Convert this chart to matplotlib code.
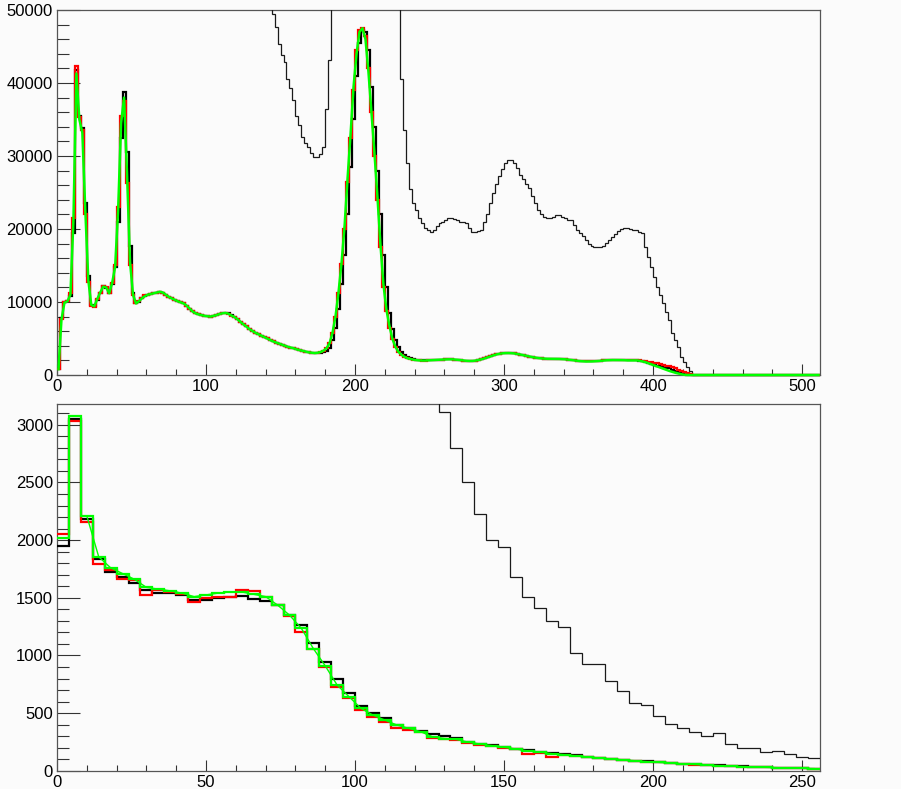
import matplotlib.pyplot as plt
import numpy as np
from matplotlib.patches import Rectangle
from matplotlib.ticker import MultipleLocator

plt.rcParams['font.family'] = ['Liberation Sans', 'DejaVu Sans']

# ---- upper pad: 256 bins of width 2 on [0, 512], counts in thousands ----
top_edges = np.arange(0, 514, 2)

top_black_k = [
    0.8, 7.8, 10.0, 10.2, 10.8, 19.5, 41.8, 35.5, 33.8, 23.5, 13.5, 9.6, 9.4, 10.3, 11.3, 12.2,
    11.9, 11.3, 12.4, 14.8, 21.0, 32.5, 38.8, 30.5, 17.7, 11.3, 9.8, 10.0, 10.5, 10.8, 11.0, 11.1,
    11.2, 11.3, 11.4, 11.3, 11.0, 10.7, 10.5, 10.3, 10.1, 9.95, 9.8, 9.5, 9.1, 8.7, 8.45, 8.3,
    8.2, 8.1, 8.05, 8.0, 8.1, 8.2, 8.35, 8.45, 8.55, 8.45, 8.2, 7.95, 7.65, 7.3, 6.95, 6.65,
    6.3, 6.05, 5.8, 5.6, 5.4, 5.2, 5.0, 4.8, 4.6, 4.45, 4.3, 4.15, 4.0, 3.85, 3.75, 3.65,
    3.5, 3.4, 3.3, 3.2, 3.1, 3.05, 3.0, 3.0, 3.05, 3.15, 3.3, 3.7, 4.8, 6.5, 9.0, 12.5,
    16.5, 22.0, 28.5, 35.0, 41.0, 45.5, 47.3, 47.0, 44.5, 39.5, 34.0, 28.0, 22.0, 16.5, 12.0, 8.5,
    6.3, 4.8, 3.8, 3.2, 2.8, 2.5, 2.3, 2.2, 2.1, 2.05, 2.0, 2.0, 2.0, 2.02, 2.05, 2.08,
    2.1, 2.12, 2.14, 2.15, 2.15, 2.12, 2.08, 2.03, 1.98, 1.94, 1.92, 1.93, 1.98, 2.06, 2.16, 2.28,
    2.42, 2.56, 2.7, 2.82, 2.91, 2.97, 3.0, 3.01, 2.99, 2.95, 2.88, 2.8, 2.71, 2.62, 2.53, 2.45,
    2.38, 2.32, 2.27, 2.24, 2.22, 2.21, 2.21, 2.21, 2.2, 2.18, 2.15, 2.11, 2.06, 2.0, 1.95, 1.9,
    1.87, 1.85, 1.85, 1.86, 1.88, 1.91, 1.95, 1.99, 2.02, 2.04, 2.05, 2.05, 2.05, 2.04, 2.03, 2.0,
    2.0, 2.0, 2.0, 1.95, 1.85, 1.75, 1.65, 1.5, 1.4, 1.3, 1.2, 1.1, 1.0, 0.9, 0.75, 0.6,
    0.45, 0.3, 0.15, 0.05, 0, 0, 0, 0, 0, 0, 0, 0, 0, 0, 0, 0,
    0, 0, 0, 0, 0, 0, 0, 0, 0, 0, 0, 0, 0, 0, 0, 0,
    0, 0, 0, 0, 0, 0, 0, 0, 0, 0, 0, 0, 0, 0, 0, 0,
]

top_red_k = [
    0.8, 7.7, 10.0, 10.1, 11.2, 21.5, 42.3, 35.4, 33.5, 22.0, 12.8, 9.5, 9.3, 10.4, 11.3, 12.2,
    12.0, 11.2, 12.6, 15.0, 23.0, 35.5, 37.5, 26.3, 15.0, 11.0, 9.8, 10.1, 10.6, 10.9, 11.0, 11.1,
    11.2, 11.3, 11.4, 11.3, 11.0, 10.7, 10.5, 10.3, 10.1, 9.95, 9.8, 9.5, 9.1, 8.7, 8.45, 8.3,
    8.2, 8.1, 8.05, 8.0, 8.1, 8.2, 8.35, 8.45, 8.5, 8.4, 8.15, 7.95, 7.65, 7.3, 6.95, 6.65,
    6.3, 6.05, 5.8, 5.6, 5.4, 5.2, 5.0, 4.8, 4.6, 4.45, 4.3, 4.15, 4.0, 3.85, 3.75, 3.65,
    3.5, 3.4, 3.3, 3.2, 3.1, 3.05, 3.0, 3.05, 3.15, 3.35, 3.7, 4.4, 5.8, 8.0, 11.2, 15.2,
    20.0, 26.5, 32.5, 39.0, 44.5, 47.3, 47.6, 46.5, 42.0, 36.0, 30.0, 24.0, 17.5, 12.0, 8.7, 6.5,
    4.9, 3.8, 3.1, 2.75, 2.5, 2.3, 2.2, 2.1, 2.05, 2.0, 1.98, 1.98, 2.0, 2.02, 2.05, 2.08,
    2.1, 2.12, 2.14, 2.15, 2.15, 2.12, 2.08, 2.03, 1.98, 1.94, 1.92, 1.93, 1.98, 2.06, 2.16, 2.28,
    2.42, 2.56, 2.7, 2.82, 2.91, 2.97, 3.0, 3.01, 2.99, 2.95, 2.88, 2.8, 2.71, 2.62, 2.53, 2.45,
    2.38, 2.32, 2.27, 2.24, 2.22, 2.21, 2.21, 2.21, 2.2, 2.18, 2.15, 2.11, 2.06, 2.0, 1.95, 1.9,
    1.87, 1.85, 1.85, 1.86, 1.88, 1.91, 1.95, 1.99, 2.02, 2.04, 2.05, 2.05, 2.05, 2.04, 2.03, 2.0,
    2.05, 2.05, 2.05, 2.0, 1.95, 1.9, 1.8, 1.75, 1.7, 1.6, 1.5, 1.4, 1.3, 1.2, 1.05, 0.9,
    0.75, 0.6, 0.45, 0.3, 0.15, 0.05, 0, 0, 0, 0, 0, 0, 0, 0, 0, 0,
    0, 0, 0, 0, 0, 0, 0, 0, 0, 0, 0, 0, 0, 0, 0, 0,
    0, 0, 0, 0, 0, 0, 0, 0, 0, 0, 0, 0, 0, 0, 0, 0,
]

top_green_k = [
    0.8, 7.6, 9.9, 10.1, 11.0, 21.0, 41.3, 35.0, 33.2, 22.5, 13.0, 9.6, 9.4, 10.4, 11.3, 12.1,
    12.0, 11.2, 12.6, 14.8, 22.5, 34.5, 38.0, 27.5, 15.5, 11.0, 9.8, 10.1, 10.5, 10.8, 11.0, 11.1,
    11.2, 11.3, 11.4, 11.3, 11.0, 10.7, 10.5, 10.3, 10.1, 9.95, 9.8, 9.5, 9.1, 8.7, 8.45, 8.3,
    8.2, 8.1, 8.05, 8.0, 8.1, 8.2, 8.35, 8.45, 8.5, 8.4, 8.15, 7.95, 7.65, 7.3, 6.95, 6.65,
    6.3, 6.05, 5.8, 5.6, 5.4, 5.2, 5.0, 4.8, 4.6, 4.45, 4.3, 4.15, 4.0, 3.85, 3.75, 3.65,
    3.5, 3.4, 3.3, 3.2, 3.1, 3.05, 3.0, 3.05, 3.15, 3.35, 3.7, 4.4, 5.9, 8.2, 11.5, 15.5,
    20.5, 27.0, 33.0, 39.5, 44.0, 47.0, 47.5, 46.0, 41.5, 36.0, 30.5, 24.5, 18.0, 12.5, 9.0, 6.8,
    5.0, 3.9, 3.2, 2.8, 2.5, 2.3, 2.2, 2.1, 2.05, 2.0, 1.98, 1.98, 2.0, 2.02, 2.05, 2.08,
    2.1, 2.12, 2.14, 2.15, 2.15, 2.12, 2.08, 2.03, 1.98, 1.94, 1.92, 1.93, 1.98, 2.06, 2.16, 2.28,
    2.42, 2.56, 2.7, 2.82, 2.91, 2.97, 3.0, 3.01, 2.99, 2.95, 2.88, 2.8, 2.71, 2.62, 2.53, 2.45,
    2.38, 2.32, 2.27, 2.24, 2.22, 2.21, 2.21, 2.21, 2.2, 2.18, 2.15, 2.11, 2.06, 2.0, 1.95, 1.9,
    1.87, 1.85, 1.85, 1.86, 1.88, 1.91, 1.95, 1.99, 2.02, 2.04, 2.05, 2.05, 2.05, 2.04, 2.03, 2.0,
    2.0, 2.0, 2.0, 1.95, 1.85, 1.75, 1.6, 1.45, 1.3, 1.15, 1.0, 0.85, 0.7, 0.55, 0.42, 0.3,
    0.2, 0.1, 0.03, 0, 0, 0, 0, 0, 0, 0, 0, 0, 0, 0, 0, 0,
    0, 0, 0, 0, 0, 0, 0, 0, 0, 0, 0, 0, 0, 0, 0, 0,
    0, 0, 0, 0, 0, 0, 0, 0, 0, 0, 0, 0, 0, 0, 0, 0,
]

# wide spectrum, runs far above the frame below ~145 and around the main peak
top_wide_k = [
    55, 120, 150, 160, 170, 260, 430, 380, 350, 260, 170, 130, 125, 130, 140, 150,
    148, 140, 155, 180, 250, 360, 390, 290, 180, 140, 125, 125, 128, 130, 131, 131,
    131, 131, 130, 128, 125, 122, 118, 115, 112, 109, 106, 102, 98, 94, 90, 87,
    85, 83, 82, 81, 81, 82, 83, 84, 84, 83, 81, 79, 76, 73, 70, 67,
    64, 62, 60, 58, 56, 54, 53, 52, 49.5, 47.7, 45.4, 43.9, 42.9, 40.5, 39.3, 37.7,
    35.5, 34.3, 32.6, 31.8, 31.3, 30.4, 29.9, 29.9, 30.3, 31.3, 36.5, 43.2, 56, 70, 95, 125,
    165, 215, 280, 345, 400, 440, 460, 450, 410, 355, 295, 235, 175, 125, 95, 78,
    66, 58, 53, 40.6, 33.6, 29.0, 25.5, 23.5, 22.6, 21.5, 20.8, 20.2, 19.8, 19.6, 19.9, 20.4,
    20.8, 21.0, 21.2, 21.5, 21.5, 21.4, 21.2, 21.0, 20.9, 20.8, 20.2, 19.6, 19.6, 19.7, 19.8, 21.0,
    22.1, 23.5, 24.9, 26.1, 27.2, 28.2, 29.0, 29.4, 29.5, 29.0, 28.3, 27.4, 26.8, 26.2, 25.6, 24.5,
    23.5, 22.6, 22.0, 21.7, 21.5, 21.5, 21.7, 21.9, 21.9, 21.7, 21.5, 21.3, 21.2, 20.6, 19.9, 19.4,
    19.0, 18.5, 18.0, 17.7, 17.6, 17.5, 17.6, 17.7, 18.1, 18.5, 18.9, 19.3, 19.7, 20.0, 20.1, 20.1,
    20.0, 19.9, 19.8, 19.6, 19.4, 17.6, 16.2, 14.8, 13.4, 12.1, 11.0, 9.8, 8.6, 7.5, 5.7, 4.8,
    3.9, 2.5, 1.8, 1.1, 0.5, 0, 0, 0, 0, 0, 0, 0, 0, 0, 0, 0,
    0, 0, 0, 0, 0, 0, 0, 0, 0, 0, 0, 0, 0, 0, 0, 0,
    0, 0, 0, 0, 0, 0, 0, 0, 0, 0, 0, 0, 0, 0, 0, 0,
]

# ---- lower pad: 64 bins of width 4 on [0, 256] ----
bottom_edges = np.arange(0, 260, 4)

bottom_black = [
    1950, 3050, 2185, 1840, 1725, 1680, 1630, 1565, 1540, 1540, 1525, 1485, 1485, 1500, 1505, 1515,
    1490, 1475, 1435, 1350, 1260, 1105, 945, 795, 675, 560, 505, 455, 400, 375, 345, 320,
    305, 287, 252, 236, 222, 209, 192, 178, 166, 153, 143, 133, 123, 114, 106, 97,
    89, 81, 74, 67, 61, 56, 51, 46, 42, 38, 34, 30, 27, 24, 21, 19,
]

bottom_red = [
    2055, 3035, 2155, 1795, 1745, 1665, 1650, 1520, 1565, 1550, 1530, 1460, 1495, 1505, 1510, 1565,
    1555, 1505, 1440, 1340, 1200, 1060, 900, 728, 628, 525, 470, 420, 374, 353, 333, 282,
    275, 270, 245, 228, 215, 200, 186, 142, 158, 118, 138, 128, 118, 110, 100, 94,
    86, 78, 72, 65, 60, 54, 50, 44, 41, 37, 33, 30, 26, 23, 21, 18,
]

bottom_green = [
    2015, 3075, 2210, 1855, 1760, 1710, 1660, 1590, 1575, 1560, 1540, 1510, 1525, 1540, 1550, 1550,
    1530, 1510, 1437, 1350, 1235, 1060, 910, 743, 642, 541, 483, 440, 397, 368, 339, 295,
    280, 272, 248, 232, 218, 204, 189, 172, 162, 149, 140, 130, 120, 111, 102, 95,
    87, 79, 73, 66, 60, 55, 50, 45, 41, 37, 33, 30, 27, 24, 21, 19,
]

bottom_wide = [
    19500, 30500, 22000, 18400, 17300, 16800, 16300, 15700, 15400, 15300, 15200, 14900, 14900, 15000, 15100, 15200,
    14900, 14700, 14300, 13500, 12600, 11100, 9500, 8000, 6800, 5700, 5100, 4600, 4100, 3800, 3500, 3300,
    3110, 2795, 2500, 2230, 2005, 1940, 1680, 1510, 1415, 1300, 1245, 1025, 930, 925, 780, 690,
    585, 570, 475, 410, 370, 335, 305, 325, 230, 200, 195, 165, 170, 142, 122, 108,
]

BG = '#fbfbfb'
FRAME = '#555555'
GREEN = '#00ff00'


def clipToFrame(ax, artist):
    # let lines sitting on y=0 show at full width over the axis line
    artist.set_clip_path(Rectangle((0, -0.012), 1, 1.012, transform=ax.transAxes))


def styleAxes(ax, xmax, ymax, xmajor, xminor, ymajor, yminor):
    ax.set_facecolor(BG)
    ax.set_xlim(0, xmax)
    ax.set_ylim(0, ymax)
    ax.xaxis.set_major_locator(MultipleLocator(xmajor))
    ax.xaxis.set_minor_locator(MultipleLocator(xminor))
    ax.yaxis.set_major_locator(MultipleLocator(ymajor))
    ax.yaxis.set_minor_locator(MultipleLocator(yminor))
    ax.tick_params(axis='x', which='major', direction='in', length=8, width=0.8,
                   color='#333333', labelsize=12, pad=3)
    ax.tick_params(axis='x', which='minor', direction='in', length=4.5, width=0.8, color='#333333')
    ax.tick_params(axis='y', which='major', direction='in', length=16.5, width=0.8,
                   color='#333333', labelsize=12, pad=3)
    ax.tick_params(axis='y', which='minor', direction='in', length=8.5, width=0.8, color='#333333')
    for side in ax.spines.values():
        side.set_color(FRAME)
        side.set_linewidth(0.9)


def drawSteps(ax, edges, values, color, lw, z):
    art = ax.stairs(values, edges, baseline=None, color=color, linewidth=lw, zorder=z)
    clipToFrame(ax, art)
    return art


def drawCurve(ax, centers, values, color, lw, z):
    line, = ax.plot(centers, values, color=color, linewidth=lw, zorder=z)
    clipToFrame(ax, line)
    return line


fig = plt.figure(figsize=(9.01, 7.89), dpi=100, facecolor=BG)
ax_top = fig.add_axes([57 / 901, 1 - 375 / 789, 763 / 901, 365 / 789])
ax_bot = fig.add_axes([57 / 901, 1 - 770.8 / 789, 763 / 901, 366.8 / 789])

styleAxes(ax_top, 512, 50000, 100, 20, 10000, 2000)
styleAxes(ax_bot, 256, 3180, 50, 10, 500, 100)

top_centers = (top_edges[:-1] + top_edges[1:]) / 2
bottom_centers = (bottom_edges[:-1] + bottom_edges[1:]) / 2

# upper pad
drawSteps(ax_top, top_edges, np.array(top_wide_k) * 1000, '#1a1a1a', 0.9, 3)
drawSteps(ax_top, top_edges, np.array(top_black_k) * 1000, 'black', 1.6, 4)
drawSteps(ax_top, top_edges, np.array(top_red_k) * 1000, 'red', 1.6, 5)
drawCurve(ax_top, top_centers, np.array(top_green_k) * 1000, GREEN, 1.8, 6)

# lower pad; the fitted green curve starts after the two leading bins
drawSteps(ax_bot, bottom_edges, bottom_wide, '#1a1a1a', 0.9, 3)
drawSteps(ax_bot, bottom_edges, bottom_black, 'black', 1.6, 4)
drawSteps(ax_bot, bottom_edges, bottom_red, 'red', 1.6, 5)
drawSteps(ax_bot, bottom_edges, bottom_green, GREEN, 1.6, 6)
drawCurve(ax_bot, bottom_centers[2:], bottom_green[2:], GREEN, 1.0, 7)

fig.savefig('out.png', dpi=100, facecolor=BG)
